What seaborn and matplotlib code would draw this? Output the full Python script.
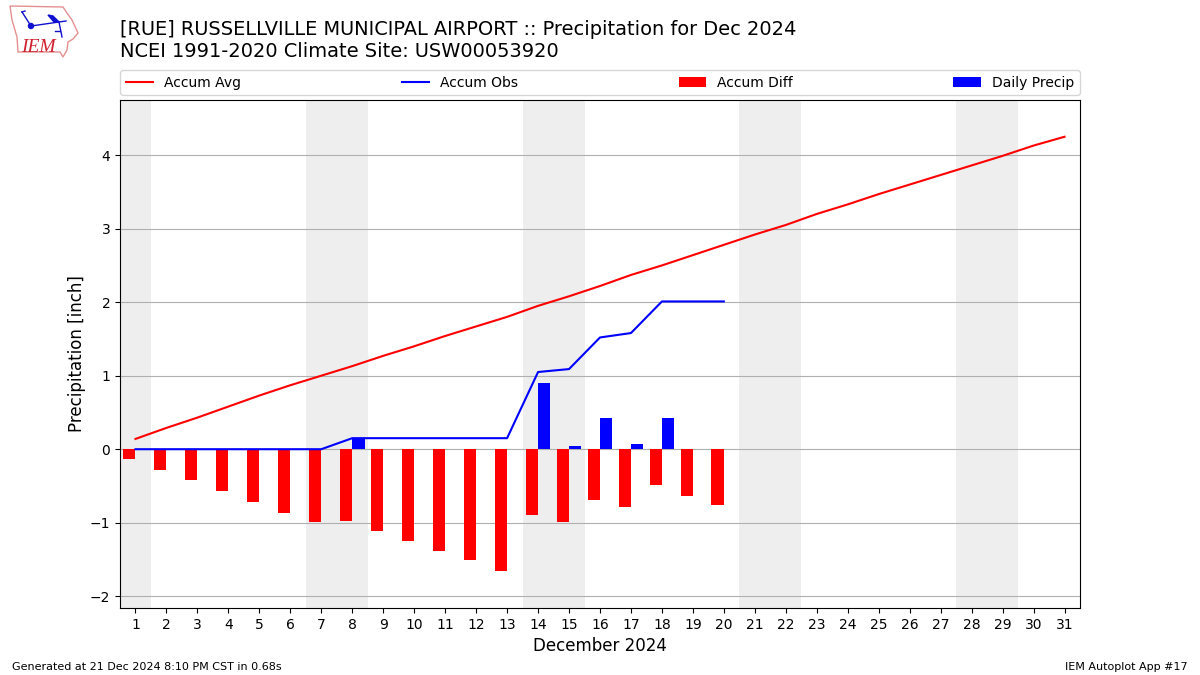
import numpy as np
import pandas as pd
import matplotlib
matplotlib.use('Agg')
import matplotlib.pyplot as plt
from matplotlib.patches import Polygon, Circle
from matplotlib.lines import Line2D
import seaborn as sns

days = list(range(1, 32))
obs_days = list(range(1, 21))
accum_avg = [0.14, 0.29, 0.43, 0.58, 0.73, 0.87, 1.00, 1.13, 1.27, 1.40, 1.54,
             1.67, 1.80, 1.95, 2.08, 2.22, 2.37, 2.50, 2.64, 2.78, 2.92, 3.05,
             3.20, 3.33, 3.47, 3.60, 3.73, 3.86, 3.99, 4.13, 4.25]
accum_obs = [0, 0, 0, 0, 0, 0, 0, 0.15, 0.15, 0.15, 0.15, 0.15, 0.15, 1.05,
             1.09, 1.52, 1.58, 2.01, 2.01, 2.01]
accum_diff = [-0.13, -0.28, -0.42, -0.57, -0.72, -0.87, -0.99, -0.98, -1.11,
              -1.25, -1.39, -1.51, -1.66, -0.90, -0.995, -0.695, -0.79, -0.49,
              -0.63, -0.76]
daily_precip = [0, 0, 0, 0, 0, 0, 0, 0.15, 0, 0, 0, 0, 0, 0.90, 0.04, 0.43,
                0.07, 0.43, 0, 0]
weekends = [(0.5, 1.5), (6.5, 8.5), (13.5, 15.5), (20.5, 22.5), (27.5, 29.5)]
# rough outline of the state in the logo, figure pixels
logo_outline = [(10, 6), (63, 7), (67, 13), (72, 20), (78, 33), (73, 39), (68, 42),
                (67, 50), (63, 57), (60, 52), (18, 52), (17, 37), (12, 20)]
logo_lines = [[(31, 26), (66, 21)], [(22, 12), (31, 26)], [(22, 12), (25, 11)],
              [(59, 22), (62, 37)], [(55, 31), (60, 31)]]
logo_wing = [(48, 15), (53, 16), (59, 22), (54, 22)]


def plot_precip():
    fig = plt.figure(figsize=(12, 6.75), dpi=100)
    ax = fig.add_axes([120 / 1200, 1 - 608 / 675, 960 / 1200, 508 / 675])

    for start, end in weekends:
        ax.axvspan(start, end, color='#EEEEEE', lw=0, zorder=0)
    ax.grid(True, axis='y', color='#B0B0B0', lw=0.8, zorder=1)
    ax.set_axisbelow(True)

    sns.lineplot(x=days, y=accum_avg, color='r', lw=1.5, label='Accum Avg', ax=ax, zorder=3)
    sns.lineplot(x=obs_days, y=accum_obs, color='b', lw=1.5, label='Accum Obs', ax=ax, zorder=3)

    # red bars sit left of the day, blue ones right of it
    diff_df = pd.DataFrame({'x': np.array(obs_days) - 0.2, 'y': accum_diff})
    precip_df = pd.DataFrame({'x': np.array(obs_days) + 0.2, 'y': daily_precip})
    sns.barplot(data=diff_df, x='x', y='y', native_scale=True, width=0.4, color='r',
                saturation=1, label='Accum Diff', errorbar=None, ax=ax, zorder=2)
    sns.barplot(data=precip_df, x='x', y='y', native_scale=True, width=0.4, color='b',
                saturation=1, label='Daily Precip', errorbar=None, ax=ax, zorder=2)

    ax.set_xticks(days)
    ax.set_xticklabels([str(d) for d in days])
    ax.set_xlim(0.5, 31.5)
    ax.set_ylim(-2.16, 4.75)
    ax.set_yticks([-2, -1, 0, 1, 2, 3, 4])
    ax.set_xlabel('December 2024', fontsize=12)
    ax.set_ylabel('Precipitation [inch]', fontsize=12, labelpad=3)

    handles, labels = ax.get_legend_handles_labels()
    ax.legend(handles, labels, ncol=4, mode='expand', loc='lower left',
              bbox_to_anchor=(0, 1.0095, 1, 0.05), borderaxespad=0, fontsize=10)

    fig.text(120 / 1200, 1 - 61 / 675,
             '[RUE] RUSSELLVILLE MUNICIPAL AIRPORT :: Precipitation for Dec 2024\n'
             'NCEI 1991-2020 Climate Site: USW00053920',
             fontsize=13.99, va='bottom', ha='left')
    fig.text(12 / 1200, 1 - 670 / 675, 'Generated at 21 Dec 2024 8:10 PM CST in 0.68s',
             fontsize=8, va='baseline')
    fig.text(1188 / 1200, 1 - 670 / 675, 'IEM Autoplot App #17',
             fontsize=8, ha='right', va='baseline')

    # logo drawn in figure pixel coordinates
    to_fig = lambda pts: [(x / 1200, 1 - y / 675) for x, y in pts]
    fig.add_artist(Polygon(to_fig(logo_outline), closed=True, fill=False,
                           edgecolor='#E59090', lw=1, transform=fig.transFigure))
    for seg in logo_lines:
        pts = to_fig(seg)
        fig.add_artist(Line2D([p[0] for p in pts], [p[1] for p in pts], color='#1010D0',
                              lw=1, transform=fig.transFigure))
    fig.add_artist(Polygon(to_fig(logo_wing), closed=True, color='#1010D0',
                           transform=fig.transFigure))
    fig.add_artist(Circle((31, 675 - 26), 2.5, color='#1010D0', transform=None))
    fig.text(21 / 1200, 1 - 52 / 675, 'IEM', family='Liberation Serif', style='italic',
             color='#D02030', fontsize=14, va='baseline')

    plt.savefig('out.png', dpi=100)


if __name__ == "__main__":
    plot_precip()
